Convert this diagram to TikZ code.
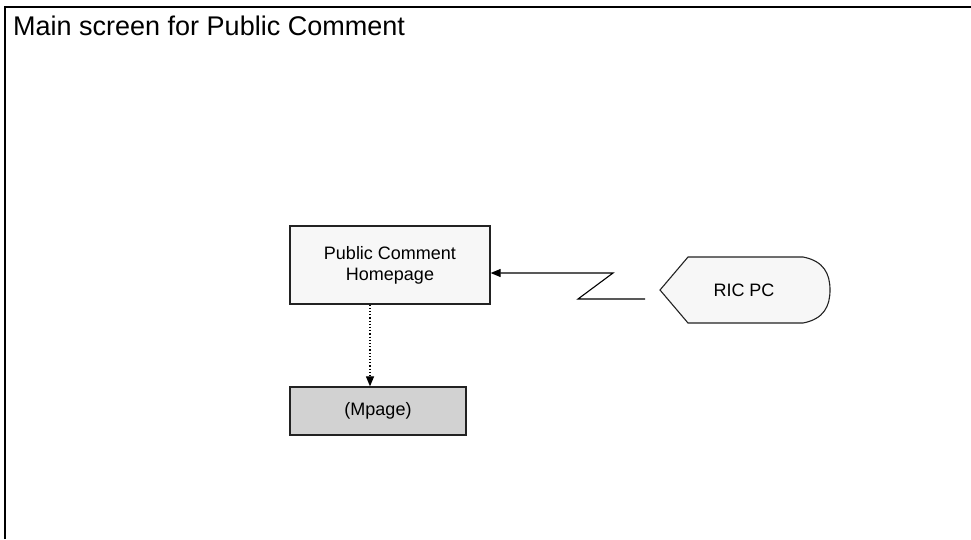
\documentclass[tikz,border=0pt]{standalone}
\usepackage{fontspec}
\setmainfont{Liberation Sans}
\usetikzlibrary{arrows.meta}
\definecolor{lightfill}{HTML}{F7F7F7}
\definecolor{midfill}{HTML}{D2D2D2}
\definecolor{edge}{HTML}{222222}
\tikzset{
  pagebox/.style={draw=edge, line width=1.3pt, inner sep=0pt, align=center,
    font=\fontsize{18}{21}\selectfont},
  conn/.style={draw=black, line width=1.1pt},
  tip/.style={-{Triangle[length=10pt,width=8pt]}},
}
\begin{document}
\begin{tikzpicture}[x=1pt,y=-1pt]
\useasboundingbox (0,0) rectangle (971,539);
% frame
\draw[line width=2pt] (4.5,539) -- (4.5,6.5) -- (971,6.5);
\node[anchor=base west, inner sep=0pt, font=\fontsize{27}{32}\selectfont] (title) at (13,35) {Main screen for Public Comment};
% nodes
\node[pagebox, fill=lightfill, minimum width=200pt, minimum height=78pt] (pc) at (390,265) {Public Comment\\Homepage};
\node[pagebox, fill=midfill, minimum width=176pt, minimum height=48pt] (mp) at (378,411) {(Mpage)};
% RIC PC shape
\draw[draw=edge, line width=1.1pt, fill=lightfill] (660,290) -- (688,257) -- (803,257)
  .. controls (824,261) and (830,274) .. (830,290)
  .. controls (830,306) and (824,319) .. (803,323) -- (688,323) -- cycle;
\node[inner sep=0pt, font=\fontsize{18}{21}\selectfont] (ric) at (744,290) {RIC PC};
% zigzag connector
\coordinate (z0) at (645,299);
\coordinate (z1) at (578,299);
\coordinate (z2) at (613,273);
\draw[conn, tip, line join=miter] (z0) -- (z1) -- (z2) -- (z2 -| pc.east);
% dotted connector
\coordinate (d) at (370,0);
\draw[line width=1.2pt, dotted, tip] (pc.south -| d) -- (mp.north -| d);
\end{tikzpicture}
\end{document}
